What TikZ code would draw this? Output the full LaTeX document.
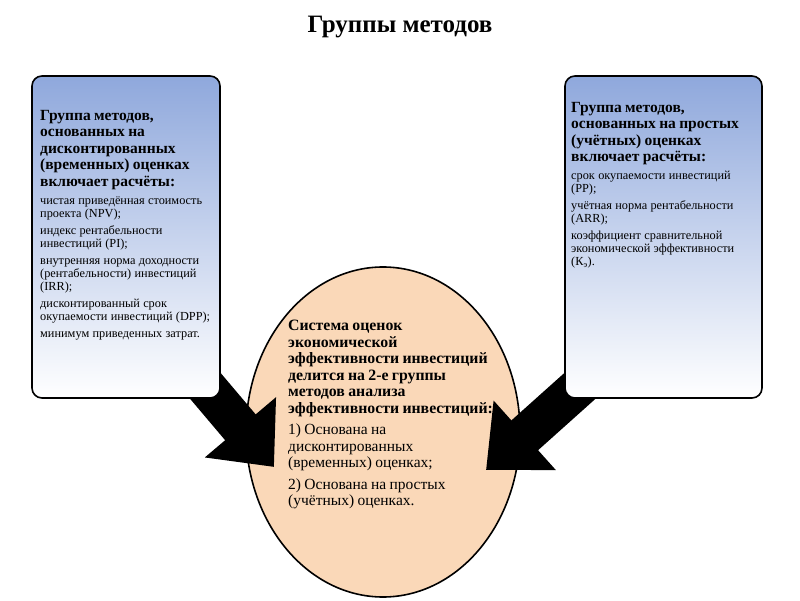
\documentclass[tikz,border=0pt]{standalone}
\usepackage{fontspec}
\setmainfont{Liberation Serif}
\usetikzlibrary{arrows.meta,shapes.geometric}
\definecolor{boxtop}{HTML}{8FA8DC}
\definecolor{ellfill}{HTML}{FAD8B8}
\tikzset{
  grpbox/.style={draw=black,line width=1.6pt,rounded corners=10pt,top color=boxtop,bottom color=white},
  bigarrow/.style={line width=40pt,-{Triangle[width=90pt,length=52pt]}},
  boxtext/.style={anchor=north west,align=left,inner sep=0pt},
}
\newcommand{\hdr}[1]{{\fontsize{15.5}{16.5}\selectfont\bfseries #1\par}\vspace{5pt}}
\newcommand{\itm}[1]{{\fontsize{12.3}{13}\selectfont #1\par}\vspace{4pt}}
\begin{document}
\begin{tikzpicture}[x=1pt,y=1pt]
\useasboundingbox (0,0) rectangle (800,600);
\fill[white] (0,0) rectangle (800,600);
\node (title) at (400,573) {\fontsize{25}{26}\selectfont\bfseries Группы методов};
\node[draw=black,line width=1.6pt,fill=ellfill,ellipse,minimum width=274pt,minimum height=330pt] (el) at (383,168) {};
\coordinate (la) at (175,250);
\coordinate (ra) at (620,250);
\coordinate (lt) at (274,133);
\coordinate (rt) at (486,130);
\draw[bigarrow] (la) -- (lt);
\draw[bigarrow] (ra) -- (rt);
\node[grpbox,minimum width=188pt,minimum height=322pt] (lb) at (126,363) {};
\node[grpbox,minimum width=197pt,minimum height=322pt] (rb) at (663.5,363) {};
\node[boxtext,text width=180pt] (lt1) at (40,490) {%
\hdr{Группа методов,\\ основанных на\\ дисконтированных\\ (временных) оценках\\ включает расчёты:}
\itm{чистая приведённая стоимость\\ проекта (NPV);}
\itm{индекс рентабельности\\ инвестиций (PI);}
\itm{внутренняя норма доходности\\ (рентабельности) инвестиций\\ (IRR);}
\itm{дисконтированный срок\\ окупаемости инвестиций (DPP);}
\itm{минимум приведенных затрат.}};
\node[boxtext,text width=194pt] (rt1) at (571,498) {%
\hdr{Группа методов,\\ основанных на простых\\ (учётных) оценках\\ включает расчёты:}
\itm{срок окупаемости инвестиций\\ (PP);}
\itm{учётная норма рентабельности\\ (ARR);}
\itm{коэффициент сравнительной\\ экономической эффективности\\ (К\textsubscript{э}).}};
\node[boxtext,text width=230pt] (et) at (288,280) {%
{\fontsize{15.8}{16.5}\selectfont\bfseries Система оценок\\ экономической\\ эффективности инвестиций\\ делится на 2-е группы\\ методов анализа\\ эффективности инвестиций:\par}\vspace{5pt}
{\fontsize{15.5}{16.5}\selectfont 1) Основана на\\ дисконтированных\\ (временных) оценках;\par}\vspace{5pt}
{\fontsize{15.5}{16.5}\selectfont 2) Основана на простых\\ (учётных) оценках.\par}};
\end{tikzpicture}
\end{document}
